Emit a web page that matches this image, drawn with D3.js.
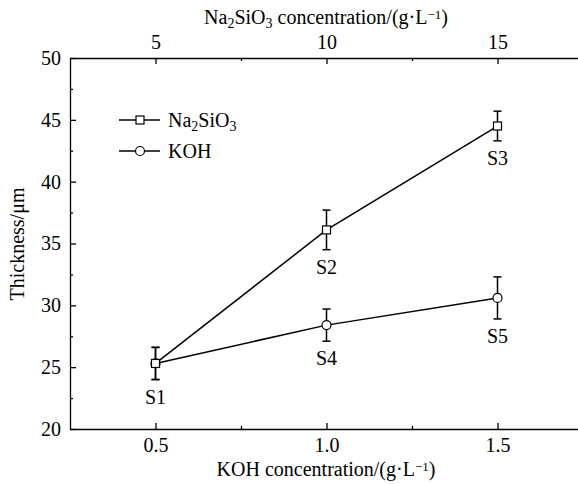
<!DOCTYPE html>
<html>
<head>
<meta charset="utf-8">
<script src="https://d3js.org/d3.v7.min.js"></script>
<style>
  body { margin: 0; background: #fff; }
  svg text { font-family: "Liberation Serif", "Times New Roman", serif; fill: #000; }
  .domain { stroke: #000; stroke-width: 1.3; }
  .tick line { stroke: #000; stroke-width: 1.3; }
  .tick text { font-size: 20px; }
</style>
</head>
<body>
<div id="chart"></div>
<script>
// data
const kohConc = [0.5, 1.0, 1.5];
const naSiThickness = [25.3, 36.1, 44.5];
const naSiError = [1.3, 1.6, 1.2];
const naSiLabels = ['S1', 'S2', 'S3'];
const kohThickness = [25.3, 28.4, 30.6];
const kohError = [1.3, 1.3, 1.7];
const kohLabels = ['', 'S4', 'S5']; // S1 is shared with the Na2SiO3 series
const naSiTicks = [5, 10, 15];
const kohTicks = [0.5, 1.0, 1.5];
const yTicks = [20, 25, 30, 35, 40, 45, 50];

const WIDTH = 578;
const HEIGHT = 485;
const FS = '20px';

const svg = d3.select('#chart')
  .append('svg')
  .attr('width', WIDTH)
  .attr('height', HEIGHT);

const x = d3.scaleLinear().domain([0.25, 1.75]).range([70, 583]);
const xTop = d3.scaleLinear().domain([2.5, 17.5]).range([70, 583]);
const y = d3.scaleLinear().domain([20, 50]).range([429, 58]);

// bottom axis
svg.append('g')
  .attr('transform', 'translate(0,429)')
  .call(d3.axisBottom(x).tickValues(kohTicks).tickFormat(d3.format('.1f')).tickSizeInner(-6).tickSizeOuter(0).tickPadding(9));
svg.append('g')
  .attr('transform', 'translate(0,429)')
  .call(d3.axisBottom(x).tickValues([0.75, 1.25]).tickFormat('').tickSizeInner(-3).tickSizeOuter(0))
  .select('.domain').remove();

// top axis
svg.append('g')
  .attr('transform', 'translate(0,58)')
  .call(d3.axisTop(xTop).tickValues(naSiTicks).tickSizeInner(-6).tickSizeOuter(0).tickPadding(9));
svg.append('g')
  .attr('transform', 'translate(0,58)')
  .call(d3.axisTop(xTop).tickValues([7.5, 12.5]).tickFormat('').tickSizeInner(-3).tickSizeOuter(0))
  .select('.domain').remove();

// left axis
svg.append('g')
  .attr('transform', 'translate(70,0)')
  .call(d3.axisLeft(y).tickValues(yTicks).tickSizeInner(-6).tickSizeOuter(0).tickPadding(9));
svg.append('g')
  .attr('transform', 'translate(70,0)')
  .call(d3.axisLeft(y).tickValues([22.5, 27.5, 32.5, 37.5, 42.5, 47.5]).tickFormat('').tickSizeInner(-3).tickSizeOuter(0))
  .select('.domain').remove();

// axis titles
const topTitle = svg.append('text')
  .attr('x', 326).attr('y', 24)
  .attr('text-anchor', 'middle')
  .style('font-size', FS);
topTitle.append('tspan').text('Na');
topTitle.append('tspan').text('2').attr('baseline-shift', '-25%').style('font-size', '14px');
topTitle.append('tspan').text('SiO');
topTitle.append('tspan').text('3').attr('baseline-shift', '-25%').style('font-size', '14px');
topTitle.append('tspan').text(' concentration/(g·L');
topTitle.append('tspan').text('−1').attr('baseline-shift', '40%').style('font-size', '13px');
topTitle.append('tspan').text(')');

const bottomTitle = svg.append('text')
  .attr('x', 326).attr('y', 476)
  .attr('text-anchor', 'middle')
  .style('font-size', FS);
bottomTitle.append('tspan').text('KOH concentration/(g·L');
bottomTitle.append('tspan').text('−1').attr('baseline-shift', '40%').style('font-size', '13px');
bottomTitle.append('tspan').text(')');

svg.append('text')
  .attr('transform', 'translate(24,244) rotate(-90)')
  .attr('text-anchor', 'middle')
  .style('font-size', FS)
  .text('Thickness/μm');

const line = d3.line().x((d, i) => x(kohConc[i])).y(d => y(d));

function drawSeries(values, errors, labels, marker) {
  svg.append('path')
    .datum(values)
    .attr('d', line)
    .attr('fill', 'none')
    .attr('stroke', '#000')
    .attr('stroke-width', 1.5);

  const g = svg.append('g')
    .selectAll('g')
    .data(values)
    .enter()
    .append('g');

  // error bars
  g.append('line')
    .attr('x1', (d, i) => x(kohConc[i])).attr('x2', (d, i) => x(kohConc[i]))
    .attr('y1', (d, i) => y(d + errors[i])).attr('y2', (d, i) => y(d - errors[i]))
    .attr('stroke', '#000').attr('stroke-width', 1.5);
  g.append('line')
    .attr('x1', (d, i) => x(kohConc[i]) - 4).attr('x2', (d, i) => x(kohConc[i]) + 4)
    .attr('y1', (d, i) => y(d + errors[i])).attr('y2', (d, i) => y(d + errors[i]))
    .attr('stroke', '#000').attr('stroke-width', 1.5);
  g.append('line')
    .attr('x1', (d, i) => x(kohConc[i]) - 4).attr('x2', (d, i) => x(kohConc[i]) + 4)
    .attr('y1', (d, i) => y(d - errors[i])).attr('y2', (d, i) => y(d - errors[i]))
    .attr('stroke', '#000').attr('stroke-width', 1.5);

  if (marker === 'square') {
    g.append('rect')
      .attr('x', (d, i) => x(kohConc[i]) - 4).attr('y', d => y(d) - 4)
      .attr('width', 8).attr('height', 8)
      .attr('fill', '#fff').attr('stroke', '#000').attr('stroke-width', 1.2);
  } else {
    g.append('circle')
      .attr('cx', (d, i) => x(kohConc[i])).attr('cy', d => y(d))
      .attr('r', 4.5)
      .attr('fill', '#fff').attr('stroke', '#000').attr('stroke-width', 1.2);
  }

  g.append('text')
    .attr('x', (d, i) => x(kohConc[i]))
    .attr('y', (d, i) => y(d - errors[i]) + 24)
    .attr('text-anchor', 'middle')
    .style('font-size', FS)
    .text((d, i) => labels[i]);
}

drawSeries(kohThickness, kohError, kohLabels, 'circle');
drawSeries(naSiThickness, naSiError, naSiLabels, 'square');

// legend
const legend = svg.append('g');
legend.append('line').attr('x1', 119).attr('x2', 160).attr('y1', 120).attr('y2', 120)
  .attr('stroke', '#000').attr('stroke-width', 1.5);
legend.append('rect').attr('x', 136).attr('y', 116).attr('width', 8).attr('height', 8)
  .attr('fill', '#fff').attr('stroke', '#000').attr('stroke-width', 1.2);
const l1 = legend.append('text').attr('x', 168).attr('y', 127).style('font-size', FS);
l1.append('tspan').text('Na');
l1.append('tspan').text('2').attr('baseline-shift', '-25%').style('font-size', '14px');
l1.append('tspan').text('SiO');
l1.append('tspan').text('3').attr('baseline-shift', '-25%').style('font-size', '14px');

legend.append('line').attr('x1', 119).attr('x2', 160).attr('y1', 151).attr('y2', 151)
  .attr('stroke', '#000').attr('stroke-width', 1.5);
legend.append('circle').attr('cx', 140).attr('cy', 151).attr('r', 4.5)
  .attr('fill', '#fff').attr('stroke', '#000').attr('stroke-width', 1.2);
legend.append('text').attr('x', 168).attr('y', 158).style('font-size', FS).text('KOH');
</script>
</body>
</html>
